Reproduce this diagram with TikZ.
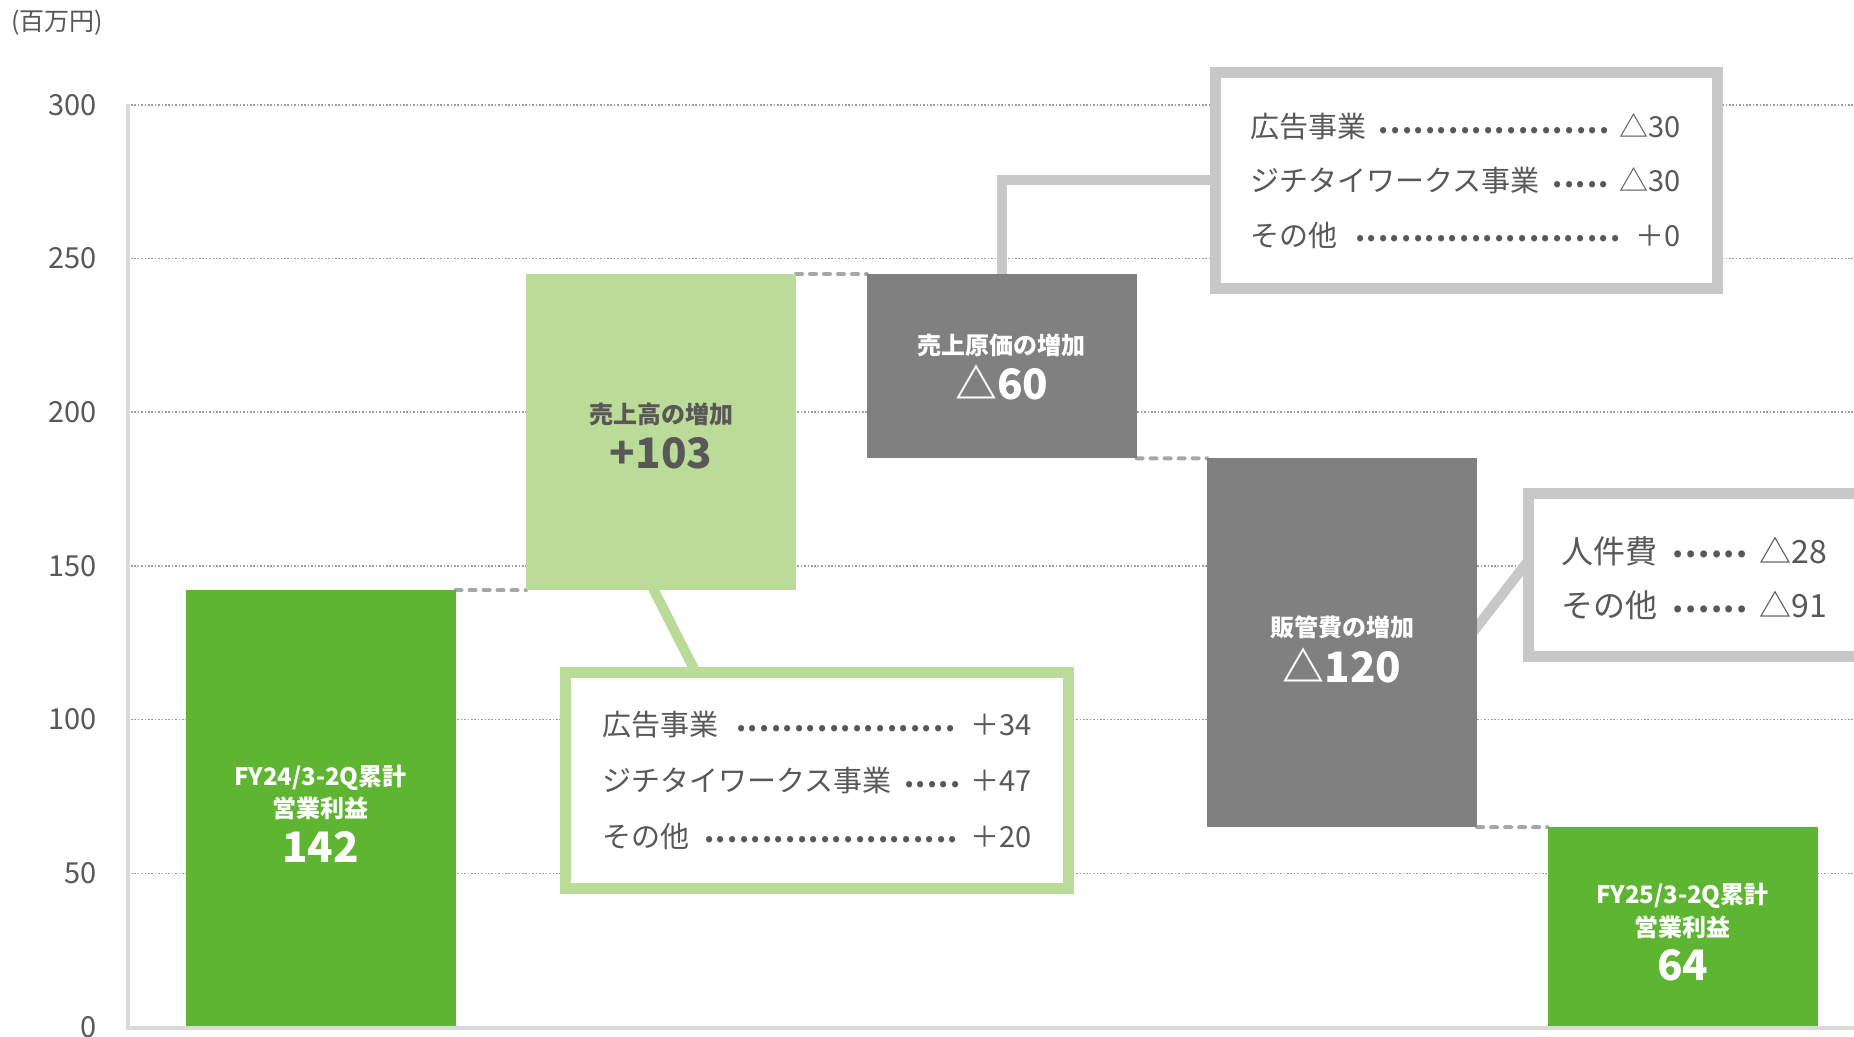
\documentclass[tikz,border=0pt]{standalone}
\usepackage{fontspec}
\setmainfont{Noto Sans CJK JP}
\usetikzlibrary{calc,fit,positioning}
\pgfdeclarelayer{background}
\pgfsetlayers{background,main}

\definecolor{opgreen}{HTML}{5DB532}
\definecolor{salesgreen}{HTML}{BBDB98}
\definecolor{costgray}{HTML}{808080}
\definecolor{framegray}{HTML}{C8C8C8}
\definecolor{linkgray}{HTML}{A6A6A6}
\definecolor{gridgray}{HTML}{9E9E9E}
\definecolor{axisgray}{HTML}{D9D9D9}
\definecolor{txtgray}{HTML}{595757}

\newcommand{\leaderdots}{\cleaders\hbox to .4em{\hss\raisebox{.16em}{\bfseries .}\hss}\hfill}
\newcommand{\itemrow}[3]{\hbox to #1{#2\hspace{.4em}\leaderdots\hspace{.3em}#3}}

\begin{document}
\begin{tikzpicture}[x=0.5pt,y=-0.5pt,
    gridline/.style={gridgray,line width=0.8pt,dash pattern=on 0.8pt off 0.9pt},
    link/.style={linkgray,line width=2pt,line cap=round,dash pattern=on 3pt off 4pt},
    pointer/.style={line width=5pt,shorten <=-3pt,shorten >=-3pt},
    bar/.style={inner sep=0pt,outer sep=0pt},
    boxframe/.style={fill=white,line width=5.5pt,inner sep=0pt},
    tick/.style={anchor=east,inner sep=0pt,text=txtgray,font=\fontsize{14.5}{16}\selectfont},
    caption/.style={inner sep=0pt,font=\bfseries\fontsize{12}{14}\selectfont},
    amount/.style={inner sep=0pt,font=\bfseries\fontsize{21}{24}\selectfont}]

  \clip (0,0) rectangle (1854,1037);

  % axis
  \node[anchor=west,inner sep=0pt,text=txtgray,font=\fontsize{12.5}{14}\selectfont] (unit) at (11,23) {(百万円)};
  \foreach \v in {0,50,...,300}
    \node[tick] (t\v) at (97,{1027-3.074*\v}) {\v};

  % bars
  \begin{scope}[every node/.style={bar}]
    \node[fill=opgreen,fit={(185.6,590.5) (455.6,1027)}] (b1) {};
    \node[fill=salesgreen,fit={(526,273.9) (796,590.5)}] (b2) {};
    \node[fill=costgray,fit={(866.6,273.9) (1136.6,458.3)}] (b3) {};
    \node[fill=costgray,fit={(1207.1,458.3) (1477.1,827.2)}] (b4) {};
    \node[fill=opgreen,fit={(1547.6,827.2) (1817.6,1027)}] (b5) {};
  \end{scope}

  \draw[axisgray,line width=2pt] (127.5,104) -- (127.5,1030);
  \draw[axisgray,line width=2pt] (125.5,1028) -- (1854,1028);

  % bar labels
  \node[caption,text=white] (l1a) at ($(b1.center)+(0,-31)$) {FY24/3-2Q累計};
  \node[caption,text=white] (l1b) at ($(b1.center)+(0,0)$) {営業利益};
  \node[amount,text=white] (l1c) at ($(b1.center)+(0,38)$) {142};
  \node[caption,text=txtgray] (l2a) at ($(b2.center)+(0,-18)$) {売上高の増加};
  \node[amount,text=txtgray] (l2b) at ($(b2.center)+(0,21)$) {+103};
  \node[caption,text=white] (l3a) at ($(b3.center)+(0,-21)$) {売上原価の増加};
  \node[amount,text=white] (l3b) at ($(b3.center)+(0,16)$) {△60};
  \node[caption,text=white] (l4a) at ($(b4.center)+(0,-15)$) {販管費の増加};
  \node[amount,text=white] (l4b) at ($(b4.center)+(0,23)$) {△120};
  \node[caption,text=white] (l5a) at ($(b5.center)+(0,-31)$) {FY25/3-2Q累計};
  \node[caption,text=white] (l5b) at ($(b5.center)+(0,0)$) {営業利益};
  \node[amount,text=white] (l5c) at ($(b5.center)+(0,38)$) {64};

  % breakdown boxes
  \node[boxframe,draw=salesgreen,fit={(565.5,672.5) (1068.5,888.5)}] (salesbox) {};
  \node[boxframe,draw=framegray,fit={(1215.1,72.2) (1717.5,288.5)}] (costbox) {};
  \node[boxframe,draw=framegray,fit={(1528.2,493.8) (1910,656.2)}] (sgabox) {};

  \begin{scope}[every node/.style={anchor=west,inner sep=0pt,text=txtgray,font=\fontsize{14.5}{17}\selectfont}]
    \node (s1) at (602,725) {\itemrow{214.5pt}{広告事業}{＋34}};
    \node (s2) at (602,781) {\itemrow{214.5pt}{ジチタイワークス事業}{＋47}};
    \node (s3) at (602,836) {\itemrow{214.5pt}{その他}{＋20}};
    \node (c1) at (1250,127) {\itemrow{215pt}{広告事業}{△30}};
    \node (c2) at (1250,181) {\itemrow{215pt}{ジチタイワークス事業}{△30}};
    \node (c3) at (1250,235.5) {\itemrow{215pt}{その他}{＋0}};
  \end{scope}
  \begin{scope}[every node/.style={anchor=west,inner sep=0pt,text=txtgray,font=\fontsize{16}{18}\selectfont}]
    \node (g1) at (1561,551) {\itemrow{133pt}{人件費}{△28}};
    \node (g2) at (1561,605) {\itemrow{133pt}{その他}{△91}};
  \end{scope}

  \begin{pgfonlayer}{background}
    \foreach \v in {50,100,...,300}
      \draw[gridline] (131,{1027-3.074*\v}) -- (1854,{1027-3.074*\v});

    \draw[link] (b1.north east) -- (b2.south west);
    \draw[link] (b2.north east) -- (b3.north west);
    \draw[link] (b3.south east) -- (b4.north west);
    \draw[link] (b4.south east) -- (b5.north west);

    \draw[pointer,salesgreen] ($(b2.south)+(-7,0)$) -- ($(salesbox.north)+(-124,0)$);
    \draw[pointer,framegray] (b3.north) |- (costbox.west);
    \draw[pointer,framegray] ($(b4.east)+(0,-16)$) -- ($(sgabox.west)+(0,-7)$);
  \end{pgfonlayer}

\end{tikzpicture}
\end{document}
